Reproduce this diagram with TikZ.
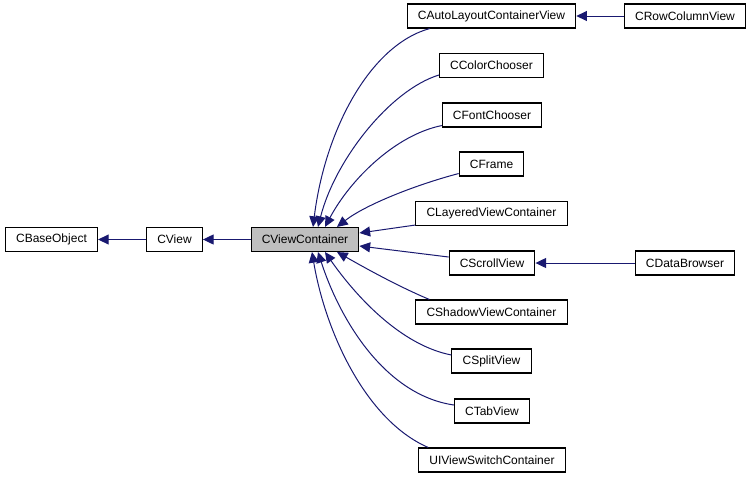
\documentclass[tikz,border=0pt]{standalone}
\usepackage{fontspec}
\setmainfont{Liberation Sans}
\usepackage{tikz}
\usetikzlibrary{arrows.meta,calc}
\definecolor{edgeblue}{RGB}{25,25,112}
\definecolor{nodegrey}{RGB}{191,191,191}
\tikzset{
  cls/.style     = {rectangle, draw=black, fill=white, line width=0.8pt,
                    minimum height=18pt, inner xsep=8pt, inner ysep=0pt,
                    font=\fontsize{9}{11}\selectfont},
  clsmain/.style = {cls, fill=nodegrey},
  inh/.style     = {-{Triangle[length=8pt,width=7.5pt]}, line width=0.75pt, draw=edgeblue},
}

\begin{document}
\begin{tikzpicture}[x=0.75pt,y=-0.75pt]
\useasboundingbox (0,0) rectangle (752,479);

% base chain
\node[cls] (base) at (51.5,239.5) {CBaseObject};
\node[cls] (view) at (174.5,239.5) {CView};
\node[clsmain] (vc) at (305,239.5) {CViewContainer};
\draw[inh] (view) -- (base);
\draw[inh] (vc) -- (view);

% derived classes
\node[cls] (autolay) at (491.5,16) {CAutoLayoutContainerView};
\node[cls] (rowcol) at (685,16) {CRowColumnView};
\node[cls] (color) at (491.5,65.5) {CColorChooser};
\node[cls] (font) at (492,115) {CFontChooser};
\node[cls] (frame) at (491.5,164) {CFrame};
\node[cls] (layered) at (491.5,213.5) {CLayeredViewContainer};
\node[cls] (scroll) at (492,263) {CScrollView};
\node[cls] (databr) at (685,263) {CDataBrowser};
\node[cls] (shadow) at (491.5,312) {CShadowViewContainer};
\node[cls] (split) at (491.5,361) {CSplitView};
\node[cls] (tab) at (492,411) {CTabView};
\node[cls] (uiswitch) at (492,460) {UIViewSwitchContainer};

\draw[inh] (rowcol) -- (autolay);
\draw[inh] (databr) -- (scroll);

% edges into CViewContainer, top side
\draw[inh] ($(autolay.south west)+(23,0)$) .. controls (370,45) and (325,130) .. ($(vc.north)+(8,0)$);
\draw[inh] ($(color.west)+(0,9.5)$) .. controls (390,90) and (335,160) .. ($(vc.north)+(13,0)$);
\draw[inh] ($(font.south west)+(0,-2)$) .. controls (395,135) and (350,180) .. ($(vc.north)+(20,0)$);
\draw[inh] ($(frame.south west)+(0,-3)$) .. controls (415,185) and (365,205) .. ($(vc.north)+(32,0)$);

% right side
\draw[inh] ($(layered.south west)+(0,-1)$) -- ($(vc.east)+(0,-6.5)$);
\draw[inh] ($(scroll.west)+(0,-6)$) -- ($(vc.east)+(0,6.5)$);

% bottom side
\draw[inh] ($(shadow.north west)+(14,0)$) .. controls (395,285) and (360,265) .. ($(vc.south)+(32,0)$);
\draw[inh] ($(split.west)+(0,-6)$) .. controls (400,345) and (355,295) .. ($(vc.south)+(20,0)$);
\draw[inh] ($(tab.west)+(0,-6)$) .. controls (385,395) and (340,320) .. ($(vc.south)+(13,0)$);
\draw[inh] ($(uiswitch.north west)+(10,0)$) .. controls (365,420) and (325,330) .. ($(vc.south)+(7,0)$);

\end{tikzpicture}
\end{document}
